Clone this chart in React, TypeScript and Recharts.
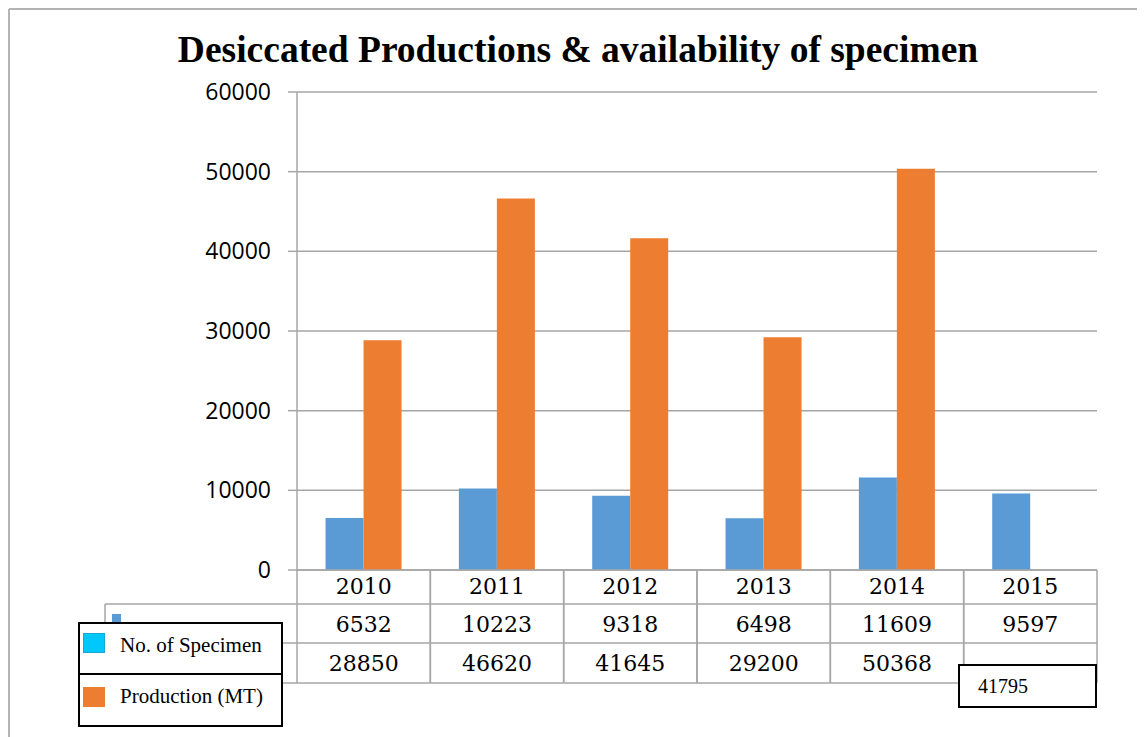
import React from "react";
import { BarChart, Bar, XAxis, YAxis, CartesianGrid } from "recharts";

const years = ["2010", "2011", "2012", "2013", "2014", "2015"];
const specimen = [6532, 10223, 9318, 6498, 11609, 9597];
const production: (number | null)[] = [28850, 46620, 41645, 29200, 50368, null];
const yTicks = [0, 10000, 20000, 30000, 40000, 50000, 60000];
const boxedValue = 41795;

const data = years.map((year, i) => ({
  year,
  specimen: specimen[i],
  production: production[i],
}));

const W = 1137;
const H = 729;
const margin = { top: 84, right: 48, bottom: 54, left: 0 };
const Y_AXIS_W = 289;
const plotW = W - Y_AXIS_W - margin.right;
const colW = plotW / years.length;
const TABLE_H = 113;
const GRID = "#a6a6a6";
const BLUE = "#5b9bd5";
const ORANGE = "#ed7d31";
const SERIF_NUM = "'DejaVu Serif', serif";
const TIMES = "'Liberation Serif', 'Times New Roman', serif";

function TableTick(props: any) {
  const { x, y, payload, index } = props;
  const left = x - colW / 2;
  const right = x + colW / 2;
  const ln = { stroke: GRID, strokeWidth: 1.5 };
  const txt = { fontFamily: SERIF_NUM, fontSize: 22, fill: "#000", textAnchor: "middle" as const };
  return (
    <g>
      <line x1={left} y1={y} x2={left} y2={y + TABLE_H} {...ln} />
      <line x1={right} y1={y} x2={right} y2={y + TABLE_H} {...ln} />
      <line x1={left} y1={y + 34} x2={right} y2={y + 34} {...ln} />
      <line x1={left} y1={y + 73} x2={right} y2={y + 73} {...ln} />
      <line x1={left} y1={y + TABLE_H} x2={right} y2={y + TABLE_H} {...ln} />
      <text x={x} y={y + 24} {...txt}>{payload.value}</text>
      <text x={x} y={y + 62} {...txt}>{specimen[index]}</text>
      <text x={x} y={y + 101} {...txt}>{production[index] ?? ""}</text>
    </g>
  );
}

export default function App() {
  return (
    <div style={{ position: "relative", width: W, height: H, overflow: "hidden", background: "#fff" }}>
      <BarChart
        width={W}
        height={H}
        data={data}
        margin={margin}
        barCategoryGap="21.4%"
        barGap={0}
      >
        <CartesianGrid vertical={false} stroke={GRID} strokeWidth={1.5} />
        <XAxis
          dataKey="year"
          height={TABLE_H}
          interval={0}
          tickLine={false}
          tickSize={0}
          tickMargin={0}
          axisLine={{ stroke: GRID, strokeWidth: 1.5 }}
          tick={<TableTick />}
        />
        <YAxis
          width={Y_AXIS_W}
          domain={[0, 60000]}
          ticks={yTicks}
          interval={0}
          tickSize={9}
          tickMargin={17}
          axisLine={{ stroke: GRID, strokeWidth: 1.5 }}
          tickLine={{ stroke: GRID, strokeWidth: 1.5 }}
          tick={{ fill: "#000", fontSize: 23, fontFamily: "'Open Sans', sans-serif" }}
        />
        <Bar dataKey="specimen" fill={BLUE} isAnimationActive={false} />
        <Bar dataKey="production" fill={ORANGE} isAnimationActive={false} />
      </BarChart>

      <svg
        width={W}
        height={H}
        style={{ position: "absolute", left: 0, top: 0, pointerEvents: "none" }}
      >
        <g transform="translate(-8,-8)">
          {/* outer frame */}
          <line x1={9} y1={9} x2={1145} y2={9} stroke="#b3b3b3" strokeWidth={2} />
          <line x1={9} y1={9} x2={9} y2={737} stroke="#b3b3b3" strokeWidth={2} />

          {/* title */}
          <text x={578} y={62} textAnchor="middle" fontFamily={TIMES} fontWeight="bold" fontSize={37.5} fill="#000">
            Desiccated Productions &amp; availability of specimen
          </text>

          {/* row-label cells of the data table */}
          <line x1={105} y1={604} x2={297} y2={604} stroke={GRID} strokeWidth={1.5} />
          <line x1={105} y1={643} x2={297} y2={643} stroke={GRID} strokeWidth={1.5} />
          <line x1={105} y1={683} x2={297} y2={683} stroke={GRID} strokeWidth={1.5} />
          <line x1={105} y1={604} x2={105} y2={683} stroke={GRID} strokeWidth={1.5} />
          <rect x={112} y={614} width={9} height={9} fill={BLUE} />

          {/* legend box */}
          <rect x={79} y={623} width={203} height={103} fill="#fff" stroke="#000" strokeWidth={2} />
          <line x1={79} y1={674} x2={282} y2={674} stroke="#000" strokeWidth={2} />
          <rect x={83.5} y={633.5} width={21} height={19} fill="#00c8fa" stroke="#14a8d8" strokeWidth={1} />
          <rect x={83} y={687} width={22} height={20} fill={ORANGE} />
          <text x={120} y={652} fontFamily={TIMES} fontSize={21} fill="#000">No. of Specimen</text>
          <text x={120} y={703} fontFamily={TIMES} fontSize={21} fill="#000">Production (MT)</text>

          {/* boxed value */}
          <rect x={959} y={665} width={137} height={42} fill="#fff" stroke="#000" strokeWidth={2} />
          <text x={978} y={693} fontFamily={TIMES} fontSize={20} fill="#000">{boxedValue}</text>
        </g>
      </svg>
    </div>
  );
}
